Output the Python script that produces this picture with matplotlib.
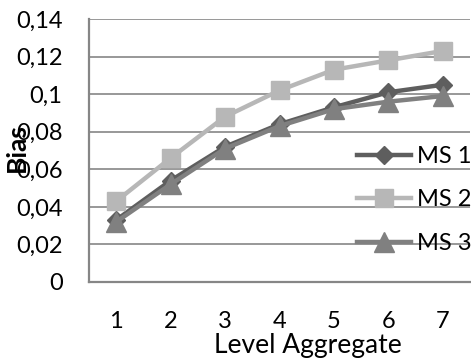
import matplotlib.pyplot as plt

plt.rcParams['font.family'] = ['Lato', 'DejaVu Sans']

levels = [1, 2, 3, 4, 5, 6, 7]
ms1 = [0.033, 0.054, 0.072, 0.084, 0.093, 0.101, 0.105]
ms2 = [0.043, 0.066, 0.088, 0.102, 0.113, 0.118, 0.123]
ms3 = [0.032, 0.052, 0.071, 0.083, 0.092, 0.096, 0.099]
yticks = [0, 0.02, 0.04, 0.06, 0.08, 0.1, 0.12, 0.14]
ytick_labels = ['0', '0,02', '0,04', '0,06', '0,08', '0,1', '0,12', '0,14']

fig = plt.figure(figsize=(4.71, 3.61), dpi=100)
ax = fig.add_axes([89 / 471, 1 - 282 / 361, 381 / 471, 263 / 361])

grid_col = '#868686'
ax.plot(levels, ms1, color='#5e5e5e', lw=3.2, marker='D', ms=9, label='MS 1')
ax.plot(levels, ms2, color='#b7b7b7', lw=3.2, marker='s', ms=12.5, label='MS 2')
ax.plot(levels, ms3, color='#808080', lw=3.2, marker='^', ms=14, label='MS 3')

ax.set_xlim(0.5, 7.5)
ax.set_ylim(0, 0.14)
ax.set_xticks(levels)
ax.set_yticks(yticks)
ax.set_yticklabels(ytick_labels)
ax.tick_params(length=0, labelsize=17)
ax.tick_params(axis='y', pad=19)
ax.tick_params(axis='x', pad=21)
ax.grid(axis='y', color=grid_col, lw=1.2)
ax.set_axisbelow(True)
for s in ['top', 'right']:
    ax.spines[s].set_visible(False)
for s in ['left', 'bottom']:
    ax.spines[s].set_color(grid_col)
    ax.spines[s].set_linewidth(1.6)

ax.legend(loc='upper left', bbox_to_anchor=(357 / 471, 1 - 146 / 361),
          bbox_transform=fig.transFigure, frameon=False, fontsize=17,
          handlelength=2.3, handletextpad=0.25, labelspacing=0.95,
          borderpad=0, borderaxespad=0)

fig.text(17 / 471, 1 - 148 / 361, 'Bias', rotation=90, ha='center',
         va='center', fontsize=19, fontweight='bold')
fig.text(308 / 471, 1 - 346 / 361, 'Level Aggregate', ha='center',
         va='center', fontsize=19)

fig.savefig('out.png', dpi=100)
